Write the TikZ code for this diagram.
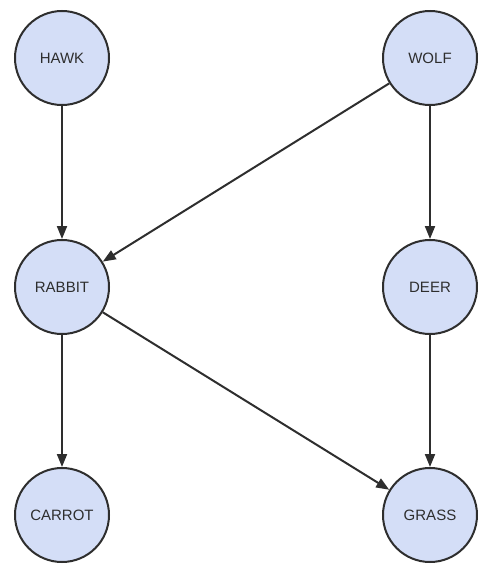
\documentclass[tikz,border=0pt]{standalone}
\usepackage{fontspec}
\setsansfont{Liberation Sans}
\usepackage{tikz}
\usetikzlibrary{arrows.meta}
\usepackage{xcolor}
\definecolor{nodefill}{HTML}{D4DEF7}
\definecolor{edgegray}{HTML}{2E2E2E}

\tikzset{
	animal/.style={circle, draw=edgegray, line width=2pt, fill=nodefill,
		minimum size=94pt, inner sep=0pt, font=\sffamily\fontsize{15}{17}\selectfont, text=edgegray},
	eats/.style={-{Triangle[length=13pt,width=10pt]}, line width=2pt, draw=edgegray}
}

\begin{document}
\begin{tikzpicture}[x=1pt,y=-1pt]
			
			\useasboundingbox (0,0) rectangle (477,565);
			
			% animals
			\node[animal] (hawk)   at (62,58)   {HAWK};
			\node[animal] (wolf)   at (430,58)  {WOLF};
			\node[animal] (rabbit) at (62,287)  {RABBIT};
			\node[animal] (deer)   at (430,287) {DEER};
			\node[animal] (carrot) at (62,515)  {CARROT};
			\node[animal] (grass)  at (430,515) {GRASS};
			
			% who eats whom
			\draw[eats] (hawk) -- (rabbit);
			\draw[eats] (wolf) -- (rabbit);
			\draw[eats] (wolf) -- (deer);
			\draw[eats] (rabbit) -- (carrot);
			\draw[eats] (rabbit) -- (grass);
			\draw[eats] (deer) -- (grass);
			
		\end{tikzpicture}
\end{document}
